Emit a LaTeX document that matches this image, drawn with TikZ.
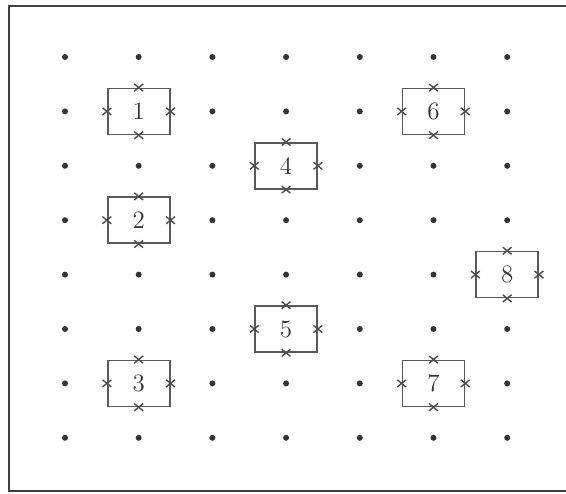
\documentclass[tikz,border=0pt]{standalone}
\usepackage{tikz}
\begin{document}
\begin{tikzpicture}[x=36.85pt,y=-27.2pt,
  cell/.style={draw=black!65,line width=0.8pt,fill=white,minimum width=31pt,minimum height=23pt,inner sep=0pt,text=black!80,font=\fontsize{12.5}{14}\selectfont},
  tick/.style={black!70,line width=0.7pt}]
  \useasboundingbox (0.118,-0.048) rectangle (7.798,9.015);
  \draw[line width=1.4pt,black!75] (7.798,0.0625) -- (0.24,0.0625) -- (0.24,8.978) -- (7.798,8.978);
  \foreach \c in {1,...,7}{\foreach \r in {1,...,8}{\fill[black!80] (\c,\r) circle (1.5pt);}}
  \foreach \n/\c/\r in {1/2/2,2/2/4,3/2/7,4/4/3,5/4/6,6/6/2,7/6/7,8/7/5}{
    \node[cell] (b\n) at (\c,\r) {\n};
    \foreach \a in {north,south,east,west}{\draw[tick] (b\n.\a) +(-2.2pt,-1.8pt) -- +(2.2pt,1.8pt) +(-2.2pt,1.8pt) -- +(2.2pt,-1.8pt);}
  }
\end{tikzpicture}
\end{document}
